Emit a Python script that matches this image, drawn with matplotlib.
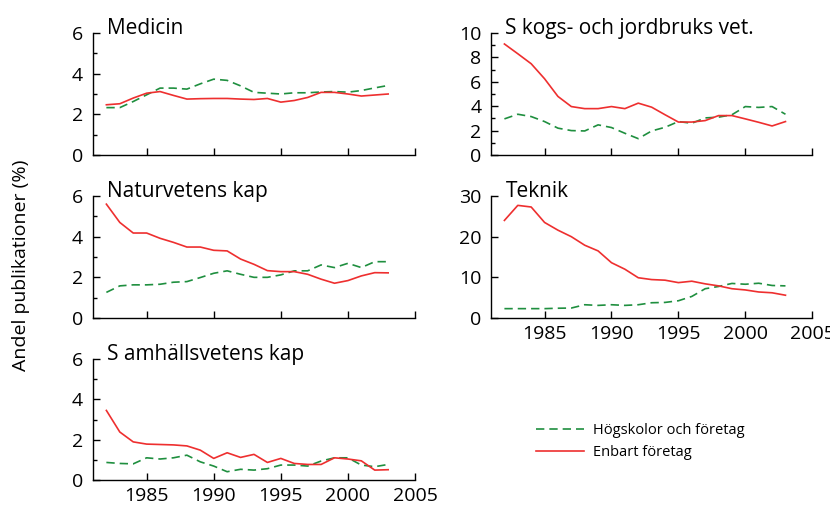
import matplotlib.pyplot as plt
from matplotlib.lines import Line2D

plt.rcParams['font.family'] = ['Open Sans', 'DejaVu Sans']

years = list(range(1982, 2004))

# Medicin
med_hog = [2.33, 2.33, 2.63, 2.96, 3.29, 3.29, 3.24, 3.5, 3.73, 3.67, 3.4,
           3.08, 3.04, 3.0, 3.06, 3.06, 3.1, 3.12, 3.09, 3.17, 3.3, 3.42]
med_enb = [2.47, 2.52, 2.8, 3.04, 3.12, 2.93, 2.75, 2.77, 2.78, 2.78, 2.75,
           2.73, 2.78, 2.6, 2.68, 2.83, 3.08, 3.08, 3.0, 2.9, 2.95, 3.0]

# Skogs- och jordbruksvetenskap
skog_hog = [2.96, 3.34, 3.15, 2.74, 2.2, 2.0, 1.97, 2.47, 2.25, 1.78, 1.34,
            1.97, 2.27, 2.74, 2.6, 3.04, 3.1, 3.3, 3.97, 3.9, 3.97, 3.34]
skog_enb = [9.1, 8.3, 7.48, 6.25, 4.8, 3.97, 3.8, 3.8, 3.97, 3.8, 4.25,
            3.92, 3.3, 2.7, 2.7, 2.82, 3.23, 3.23, 2.96, 2.68, 2.38, 2.74]

# Naturvetenskap
nat_hog = [1.26, 1.58, 1.63, 1.63, 1.66, 1.76, 1.79, 1.99, 2.2, 2.32, 2.15,
           2.0, 2.0, 2.12, 2.32, 2.32, 2.61, 2.48, 2.69, 2.48, 2.77, 2.77]
nat_enb = [5.6, 4.7, 4.18, 4.18, 3.92, 3.72, 3.49, 3.49, 3.33, 3.3, 2.9,
           2.64, 2.33, 2.28, 2.28, 2.15, 1.91, 1.71, 1.84, 2.07, 2.23, 2.22]

# Teknik
tek_hog = [2.3, 2.3, 2.3, 2.3, 2.4, 2.45, 3.26, 3.1, 3.26, 3.1, 3.26,
           3.75, 3.83, 4.24, 5.3, 7.2, 7.75, 8.5, 8.3, 8.55, 8.0, 7.9]
tek_enb = [24.0, 27.7, 27.3, 23.5, 21.6, 20.0, 17.9, 16.5, 13.6, 12.0, 9.9,
           9.45, 9.3, 8.7, 9.05, 8.4, 7.9, 7.2, 6.9, 6.4, 6.2, 5.6]

# Samhällsvetenskap
sam_hog = [0.87, 0.82, 0.8, 1.1, 1.04, 1.1, 1.23, 0.9, 0.69, 0.41, 0.53,
           0.49, 0.56, 0.74, 0.74, 0.69, 0.94, 1.1, 1.1, 0.74, 0.66, 0.77]
sam_enb = [3.45, 2.38, 1.89, 1.78, 1.76, 1.74, 1.69, 1.48, 1.07, 1.35, 1.12,
           1.27, 0.87, 1.07, 0.82, 0.77, 0.77, 1.1, 1.04, 0.95, 0.49, 0.51]

green = '#1f8f3f'
red = '#ee2f2f'

fig = plt.figure(figsize=(8.3, 5.11), dpi=100)

panels = [
    ([0.112, 0.6967, 0.388, 0.2387], 'Medicin', med_hog, med_enb, 6, 2, 1, False),
    ([0.5916, 0.6967, 0.387, 0.2387], 'S kogs- och jordbruks vet.', skog_hog, skog_enb, 10, 2, 1, False),
    ([0.112, 0.3777, 0.388, 0.2387], 'Naturvetens kap', nat_hog, nat_enb, 6, 2, 1, False),
    ([0.5916, 0.3777, 0.387, 0.2387], 'Teknik', tek_hog, tek_enb, 30, 10, None, True),
    ([0.112, 0.0607, 0.388, 0.2367], 'S amhällsvetens kap', sam_hog, sam_enb, 6, 2, 1, True),
]

for rect, title, hog, enb, ymax, ystep, yminor, xlabels in panels:
    ax = fig.add_axes(rect)
    ax.plot(years, hog, color=green, lw=1.2, dashes=(5, 3))
    ax.plot(years, enb, color=red, lw=1.2)
    ax.set_xlim(1981, 2005)
    ax.set_ylim(0, ymax)
    ax.set_xticks([1985, 1990, 1995, 2000, 2005])
    ax.set_yticks(range(0, ymax + 1, ystep))
    if yminor:
        ax.set_yticks(range(0, ymax + 1, yminor), minor=True)
    if not xlabels:
        ax.set_xticklabels([])
    for s in ['top', 'right']:
        ax.spines[s].set_visible(False)
    for s in ['left', 'bottom']:
        ax.spines[s].set_linewidth(1.0)
    ax.tick_params(which='major', direction='in', length=5, width=1.0,
                   labelsize=14, pad=7)
    ax.tick_params(which='minor', direction='in', length=3, width=1.0)
    ax.tick_params(axis='x', pad=5)
    ax.text(0.045, 0.99, title, transform=ax.transAxes, fontsize=15,
            va='baseline', ha='left')

fig.text(0.025, 0.48, 'Andel publikationer (%)', rotation=90,
         fontsize=14, va='center', ha='center')

handles = [Line2D([], [], color=green, lw=1.2, dashes=(5, 3)),
           Line2D([], [], color=red, lw=1.2)]
fig.legend(handles, ['Högskolor och företag', 'Enbart företag'],
           loc='center left', bbox_to_anchor=(0.63, 0.136), frameon=False,
           fontsize=10.5, handlelength=3.3, handletextpad=0.6,
           labelspacing=0.5)

fig.savefig('out.png', dpi=100)
